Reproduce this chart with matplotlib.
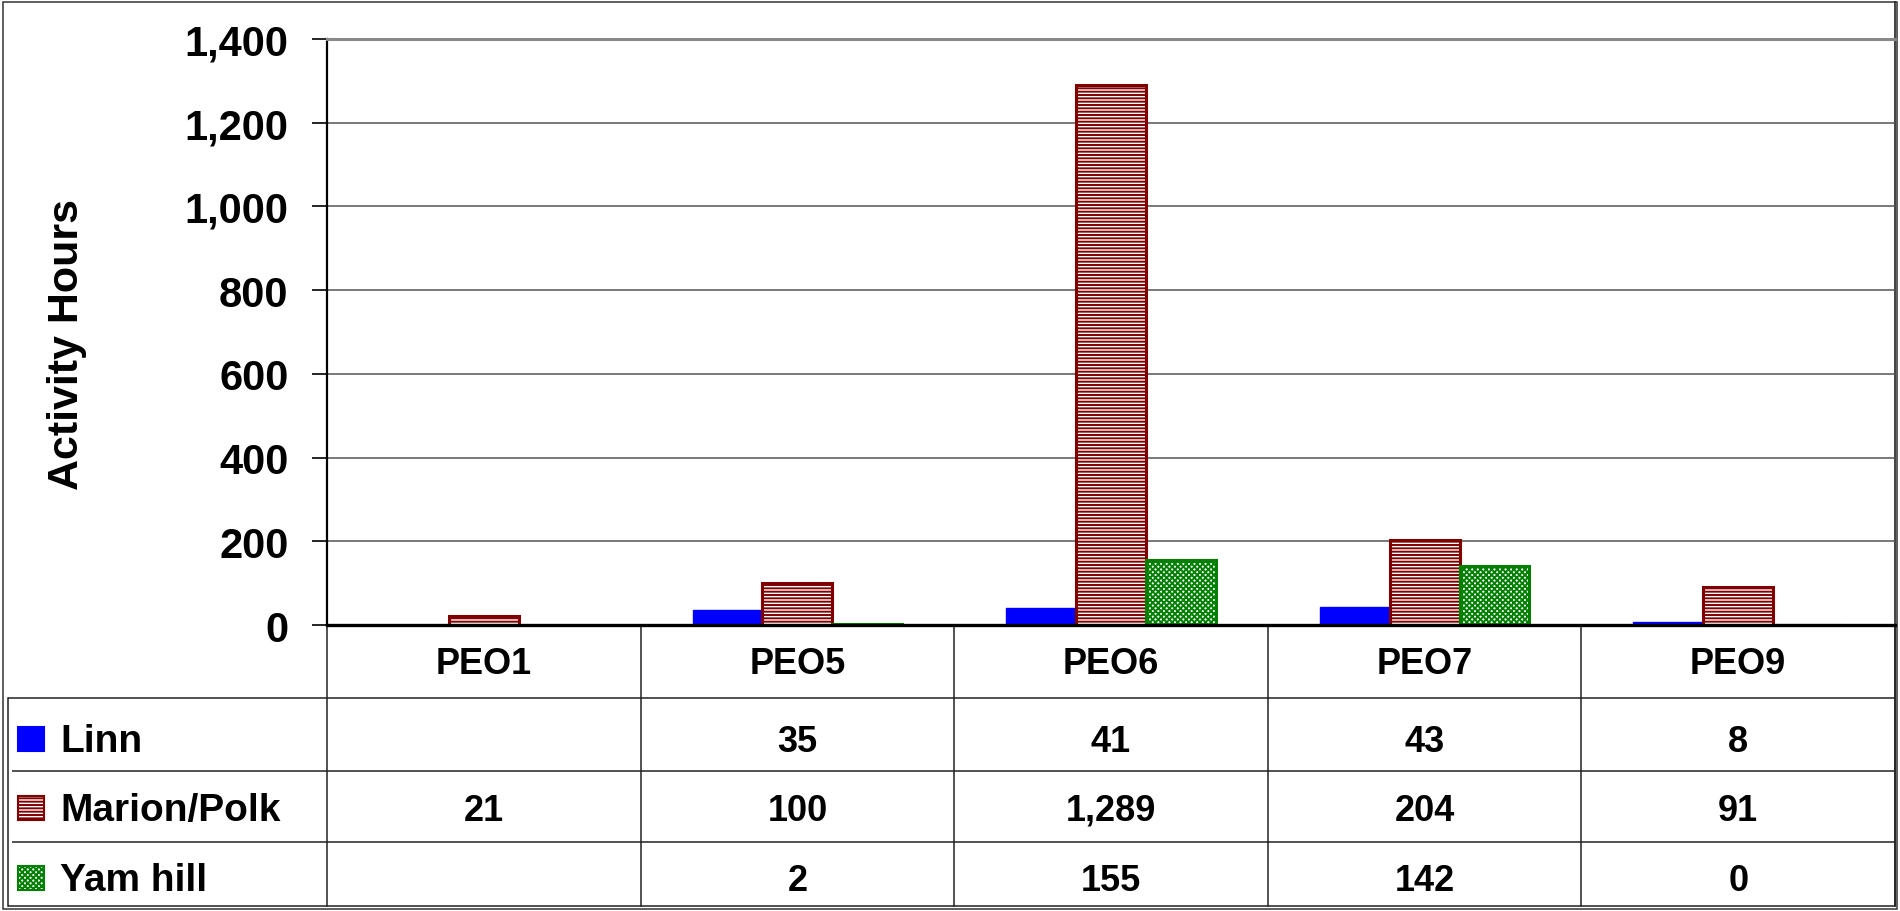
import matplotlib
matplotlib.use("Agg")
import matplotlib.pyplot as plt
import matplotlib.transforms as mtransforms
from matplotlib.patches import Rectangle
from matplotlib.ticker import FuncFormatter
import numpy as np

# ---------------- data ----------------
categories = ["PEO1", "PEO5", "PEO6", "PEO7", "PEO9"]
series_names = ["Linn", "Marion/Polk", "Yamhill"]
linn = [None, 35, 41, 43, 8]
marion_polk = [21, 100, 1289, 204, 91]
yamhill = [None, 2, 155, 142, 0]
y_ticks = [0, 200, 400, 600, 800, 1000, 1200, 1400]
y_label = "Activity Hours"
legend_labels = ["Linn", "Marion/Polk", "Yam hill"]

# ---------------- style ----------------
plt.rcParams["font.family"] = ["Liberation Sans", "DejaVu Sans"]
plt.rcParams["font.weight"] = "bold"
plt.rcParams["hatch.linewidth"] = 1.4

W, H = 1900, 912
fig = plt.figure(figsize=(W / 100, H / 100), dpi=100)

# overlay axes in pixel coordinates (y downward)
tax = fig.add_axes([0, 0, 1, 1], zorder=0)
tax.set_xlim(0, W)
tax.set_ylim(H, 0)
tax.axis("off")

# main plot area
L, R, T, B = 327, 1895, 40, 626
ax = fig.add_axes([L / W, (H - B) / H, (R - L) / W, (B - T) / H], zorder=1)
ax.patch.set_alpha(0)

x = np.arange(len(categories))
bw = 0.223

def vals(v):
    return np.array([np.nan if a is None else a for a in v], dtype=float)

styles = [
    dict(color="#0000FF", edgecolor="#0000FF", linewidth=1.0),
    dict(facecolor="white", edgecolor="#800000", linewidth=2.2, hatch="-----"),
    dict(facecolor="white", edgecolor="#008000", linewidth=2.2, hatch="xxxxxx"),
]
data = [vals(linn), vals(marion_polk), vals(yamhill)]
for i, (d, st) in enumerate(zip(data, styles)):
    ax.bar(x + (i - 1) * bw, d, width=bw, zorder=2, **st)

ax.set_xlim(-0.5, len(categories) - 0.5)
ax.set_ylim(0, 1400)
ax.set_yticks(y_ticks)
ax.yaxis.set_major_formatter(FuncFormatter(lambda v, p: f"{int(v):,}"))
ax.tick_params(axis="y", direction="out", length=10.8, width=1.2, pad=17,
               labelsize=30, color="black")
for lab in ax.get_yticklabels():
    lab.set_fontweight("bold")
ax.set_xticks([])
ax.set_axisbelow(True)
ax.yaxis.grid(True, color="#555555", linewidth=1.1, zorder=0)

ax.spines["left"].set_color("black")
ax.spines["left"].set_linewidth(1.6)
ax.spines["top"].set_color("#888888")
ax.spines["top"].set_linewidth(2.2)
ax.spines["right"].set_visible(False)
ax.spines["bottom"].set_color("black")
ax.spines["bottom"].set_linewidth(2.4)
ax.spines["bottom"].set_zorder(3)

fig.text(67 / W, 1 - 345 / H, y_label, rotation=90, ha="center", va="center",
         fontsize=31, fontweight="bold")

# ---------------- data table ----------------
lc = "#222222"
lw = 1.1
row_lines = [699, 772, 843, 907]
for k, yy in enumerate(row_lines):
    x0 = 8 if k in (0, 3) else 12
    tax.plot([x0, R], [yy, yy], color=lc, lw=lw, solid_capstyle="butt")
tax.plot([8, 8], [699, 907], color=lc, lw=lw)
blend = mtransforms.blended_transform_factory(ax.transData, tax.transData)
for b in np.arange(-0.5, len(categories), 1.0):
    tax.plot([b, b], [B, 907], color=lc, lw=lw, transform=blend)

for i, c in enumerate(categories):
    tax.text(i, 674, c, transform=blend, ha="center", va="baseline",
             fontsize=26, fontweight="bold")

baselines = [752, 821, 891]
for r, (d, lab, st) in enumerate(zip([linn, marion_polk, yamhill], legend_labels, styles)):
    yb = baselines[r]
    for i, v in enumerate(d):
        if v is None:
            continue
        tax.text(i, yb, f"{v:,}", transform=blend, ha="center", va="baseline",
                 fontsize=26, fontweight="bold")
    kst = dict(st)
    kst["linewidth"] = 1.5
    tax.add_patch(Rectangle((18, yb - 24), 26, 24, **kst))
    tax.text(60, yb, lab, ha="left", va="baseline", fontsize=28, fontweight="bold")

# figure border
tax.add_patch(Rectangle((3, 3), W - 6, H - 5, fill=False, edgecolor="#333333", lw=1.1))
tax.plot([R, R], [3, 907], color=lc, lw=1.2)

fig.savefig("out.png", dpi=100)
